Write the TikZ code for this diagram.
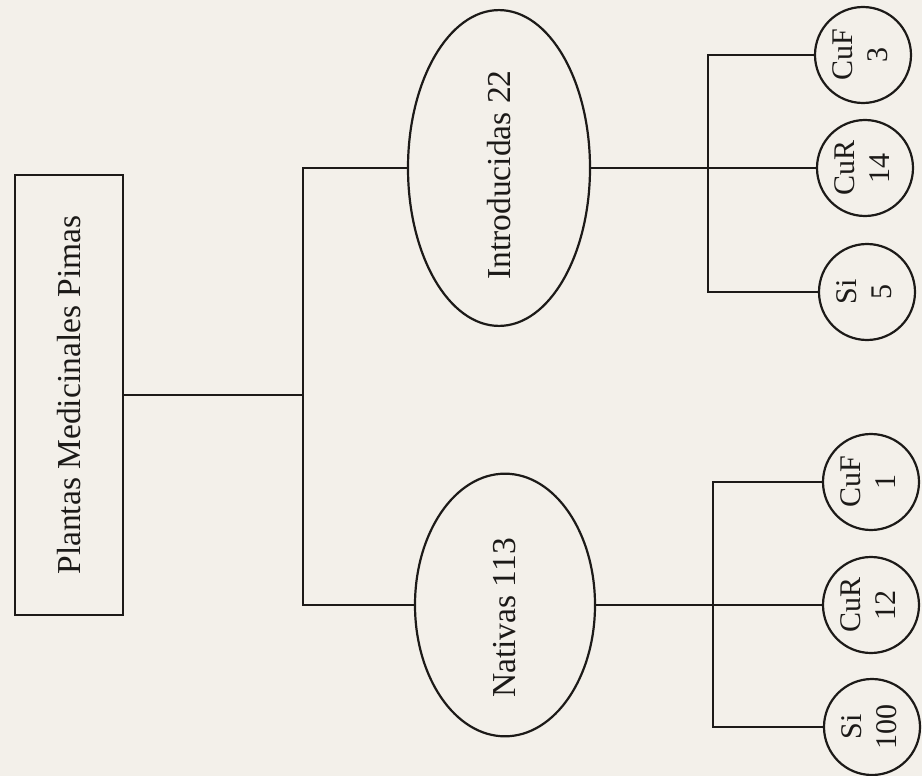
\documentclass[tikz,border=0pt]{standalone}
\usepackage{fontspec}
\setmainfont{Liberation Serif}
\usetikzlibrary{shapes.geometric}
\definecolor{paper}{RGB}{243,240,234}
\definecolor{ink}{RGB}{28,26,24}
\newcommand{\rtxt}[2]{\rotatebox{90}{\fontsize{#1}{#1}\selectfont #2}}
\newcommand{\rpair}[2]{\rotatebox{90}{\fontsize{30}{35}\selectfont\begin{tabular}{@{}c@{}}#1\\#2\end{tabular}}}
\begin{document}
\begin{tikzpicture}[x=1pt,y=-1pt,
  boxnode/.style={draw=ink,line width=2.2pt,rectangle,inner sep=0pt,minimum width=108pt,minimum height=440pt,text=ink},
  oval/.style={draw=ink,line width=2.2pt,ellipse,inner sep=0pt,text=ink},
  leaf/.style={draw=ink,line width=2.2pt,circle,inner sep=0pt,minimum size=96pt,text=ink},
  link/.style={draw=ink,line width=2pt},
  sublink/.style={draw=ink,line width=2.8pt}]
\fill[paper] (0,0) rectangle (922,776);
\useasboundingbox (0,0) rectangle (922,776);
% nodes
\node[boxnode] (root) at (69,395) {\rtxt{33.5}{Plantas Medicinales Pimas}};
\node[oval,minimum width=182pt,minimum height=222pt] (intro) at (499,168) {\rtxt{33.5}{Introducidas 22\kern14pt}};
\node[oval,minimum width=180pt,minimum height=207pt] (nat) at (505,605) {\rtxt{33.5}{Nativas 113\kern26pt}};
\node[leaf] (cuf3) at (863,55) {\rpair{CuF}{3}};
\node[leaf] (cur14) at (865,168) {\rpair{CuR}{14}};
\node[leaf] (si5) at (867,292) {\rpair{Si}{5}};
\node[leaf] (cuf1) at (871,482) {\rpair{CuF}{1}};
\node[leaf] (cur12) at (871,605) {\rpair{CuR}{12}};
\node[leaf] (si100) at (872,727) {\rpair{Si}{100}};
% junctions
\coordinate (j) at (303,395);
\coordinate (bt) at (708,168);
\coordinate (bb) at (713,605);
% connectors
\draw[link] (root.east) -- (j);
\draw[link] (intro.west) -| (j) |- (nat.west);
\draw[sublink] (intro.east) -- (cur14.west);
\draw[sublink] (cuf3.west) -| (bt) |- (si5.west);
\draw[sublink] (nat.east) -- (cur12.west);
\draw[sublink] (cuf1.west) -| (bb) |- (si100.west);
\end{tikzpicture}
\end{document}
